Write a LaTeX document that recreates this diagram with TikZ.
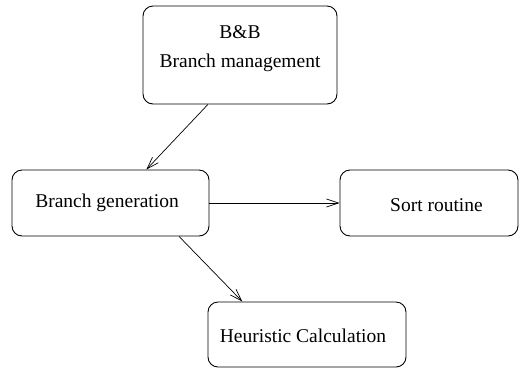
\documentclass[tikz,border=0pt]{standalone}
\usepackage{fontspec}
\setmainfont{Liberation Serif}
\usetikzlibrary{arrows.meta}
\begin{document}
\begin{tikzpicture}[x=1pt,y=-1pt,
  box/.style={draw,line width=0.9pt,rounded corners=10pt,inner sep=0pt},
  lbl/.style={inner sep=0pt,font=\fontsize{19.5}{23}\selectfont,align=center},
  arr/.style={line width=0.7pt,-{Straight Barb[length=12pt,width=8pt,line width=0.7pt]}}]
\useasboundingbox (0,0) rectangle (527,368);
\node[box,minimum width=194pt,minimum height=98pt] (bb) at (240,55) {};
\node[lbl] (bbt) at (240,49) {B\&B\\[6pt]Branch management};
\node[box,minimum width=197pt,minimum height=66pt] (bg) at (110.5,203) {};
\node[lbl] (bgt) at (107,203) {Branch generation};
\node[box,minimum width=178pt,minimum height=66pt] (sr) at (429,203) {};
\node[lbl] (srt) at (436.5,205) {Sort routine};
\node[box,minimum width=198pt,minimum height=65pt] (hc) at (307,334.5) {};
\node[lbl] (hct) at (303,336) {Heuristic Calculation};
\draw[arr] (bb.237.7) -- (bg.43.7);
\draw[arr] (bg.east) -- (sr.west);
\draw[arr] (bg.-26.7) -- (hc.153.8);
\end{tikzpicture}
\end{document}
